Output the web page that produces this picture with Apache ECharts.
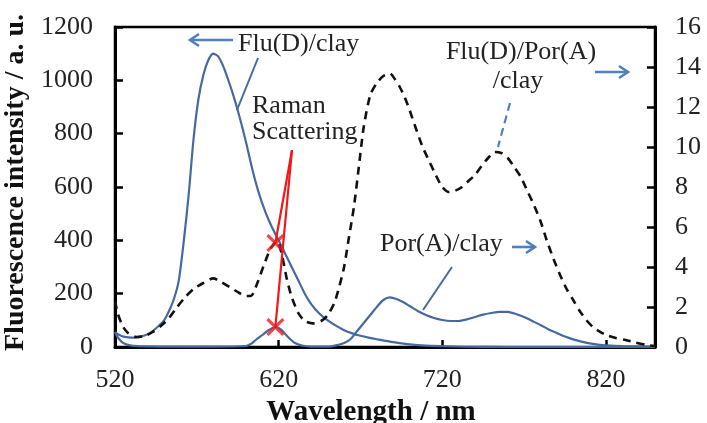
<!DOCTYPE html>
<html>
<head>
<meta charset="utf-8">
<script src="https://cdn.jsdelivr.net/npm/echarts@6/dist/echarts.min.js"></script>
<style>
  html, body { margin: 0; padding: 0; background: #ffffff; }
  #chart { width: 707px; height: 423px; }
</style>
</head>
<body>
<div id="chart"></div>
<script>
// Fluorescence spectra: Flu(D)/clay on the left axis, the other two on the right axis.
const wlFluD = [520, 523, 526, 530, 534, 538, 542, 546, 550, 553, 556, 559, 562, 565, 568, 571, 574, 577, 580, 583, 586, 589, 592, 596, 600, 604, 608, 612, 616, 620, 624, 628, 632, 636, 640, 645, 650, 655, 660, 665, 670, 675, 680, 690, 700, 710, 720, 735, 760, 800, 850];
const valFluD = [55, 44, 38, 35, 37, 43, 55, 75, 100, 135, 180, 250, 395, 570, 780, 930, 1020, 1075, 1100, 1090, 1055, 1005, 950, 865, 770, 665, 575, 505, 448, 400, 350, 300, 250, 200, 160, 125, 100, 80, 63, 51, 42, 35, 29, 18, 10, 5, 3, 1, 0, 0, 0];

const wlPorA = [520, 522, 525, 530, 540, 560, 580, 600, 603, 606, 610, 614, 618, 621, 624, 627, 630, 635, 640, 650, 655, 660, 664, 668, 672, 676, 680, 684, 688, 692, 696, 700, 705, 710, 715, 720, 725, 730, 735, 740, 745, 750, 755, 760, 765, 770, 775, 780, 785, 790, 795, 800, 805, 810, 815, 820, 830, 850];
const valPorA = [0.75, 0.45, 0.2, 0.07, 0.03, 0.02, 0.02, 0.05, 0.15, 0.35, 0.6, 0.85, 1.0, 0.9, 0.65, 0.4, 0.2, 0.06, 0.02, 0.02, 0.08, 0.2, 0.4, 0.8, 1.2, 1.6, 2.0, 2.35, 2.48, 2.4, 2.25, 2.05, 1.8, 1.6, 1.45, 1.35, 1.3, 1.3, 1.38, 1.5, 1.62, 1.7, 1.76, 1.76, 1.65, 1.5, 1.3, 1.1, 0.88, 0.7, 0.52, 0.38, 0.27, 0.18, 0.12, 0.08, 0.04, 0.02];

const wlFluDPorA = [520, 522, 525, 528, 533, 538, 543, 548, 553, 558, 563, 568, 574, 580, 585, 590, 596, 600, 603, 607, 611, 615, 619, 622, 625, 628, 632, 636, 641, 646, 650, 654, 657, 660, 663, 666, 669, 672, 676, 680, 684, 688, 691, 694, 697, 700, 704, 708, 712, 716, 720, 724, 728, 732, 736, 740, 744, 748, 752, 756, 760, 764, 768, 772, 776, 780, 784, 788, 792, 796, 800, 804, 808, 812, 816, 820, 826, 832, 838, 845, 850];
const valFluDPorA = [2.3, 1.6, 1.0, 0.7, 0.5, 0.55, 0.75, 1.05, 1.45, 2.0, 2.5, 2.9, 3.2, 3.43, 3.25, 3.0, 2.7, 2.55, 2.55, 3.2, 4.1, 4.9, 5.3, 4.6, 3.4, 2.5, 1.7, 1.3, 1.18, 1.3, 1.6, 2.2, 3.0, 4.0, 5.5, 7.0, 9.0, 11.0, 12.6, 13.2, 13.55, 13.68, 13.4, 13.0, 12.5, 11.85, 10.9, 10.0, 9.3, 8.6, 8.0, 7.75, 7.82, 8.0, 8.3, 8.6, 9.05, 9.45, 9.75, 9.7, 9.45, 9.0, 8.5, 7.8, 7.1, 6.3, 5.3, 4.4, 3.6, 2.9, 2.35, 1.8, 1.35, 1.0, 0.78, 0.6, 0.45, 0.35, 0.22, 0.1, 0.05];

// Raman scattering peaks marked with crosses (right-axis units)
const ramanWl = [618, 618];
const ramanVal = [5.2, 1.0];

// Axis ranges and tick labels
const xTicks = [520, 620, 720, 820];
const leftTicks = [0, 200, 400, 600, 800, 1000, 1200];
const rightTicks = [0, 2, 4, 6, 8, 10, 12, 14, 16];

const zip = (xs, ys) => xs.map((x, i) => [x, ys[i]]);

const SERIF = "'Liberation Serif', 'Times New Roman', serif";
const CURVE_BLUE = '#46699f';
const ARROW_BLUE = '#4f81bd';
const RED = '#f01818';

const chart = echarts.init(document.getElementById('chart'), null, { renderer: 'canvas' });

const plainNumber = (v) => String(v);

const axisCommon = {
  axisLine: { show: true, onZero: false, lineStyle: { color: '#000', width: 3 } },
  axisTick: { show: true, inside: true, length: 8, lineStyle: { color: '#000', width: 2.5 } },
  splitLine: { show: false }
};

const crossPath = 'path://M0,1.2L1.2,0L5,3.8L8.8,0L10,1.2L6.2,5L10,8.8L8.8,10L5,6.2L1.2,10L0,8.8L3.8,5Z';

const curve = (name, axis, data, lineStyle, z) => ({
  name, type: 'line', yAxisIndex: axis, data, showSymbol: false,
  smooth: 0.25, lineStyle, z
});

const option = {
  animation: false,
  backgroundColor: '#ffffff',
  grid: {
    left: 115, right: 52, top: 27, bottom: 76,
    containLabel: false, outerBoundsMode: 'none',
    show: true, borderColor: '#000', borderWidth: 2.5, backgroundColor: 'transparent'
  },
  xAxis: Object.assign({}, axisCommon, {
    type: 'value',
    min: xTicks[0], max: 850, interval: xTicks[1] - xTicks[0],
    axisTick: { show: true, inside: true, length: 7, lineStyle: { color: '#000', width: 2.5 } },
    axisLabel: { fontFamily: SERIF, fontSize: 26, color: '#222', margin: 20, showMaxLabel: false, formatter: plainNumber },
    name: 'Wavelength / nm',
    nameLocation: 'middle',
    nameGap: 51,
    nameTextStyle: { fontFamily: SERIF, fontWeight: 'bold', fontSize: 29, color: '#111', padding: [0, 28, 0, 0] }
  }),
  yAxis: [
    Object.assign({}, axisCommon, {
      type: 'value', position: 'left',
      min: leftTicks[0], max: leftTicks[leftTicks.length - 1], interval: leftTicks[1] - leftTicks[0],
      axisLabel: { fontFamily: SERIF, fontSize: 26, color: '#222', margin: 22, formatter: plainNumber },
      name: 'Fluorescence intensity / a. u.',
      nameLocation: 'middle',
      nameRotate: 90,
      nameGap: 74,
      nameTextStyle: { fontFamily: SERIF, fontWeight: 'bold', fontSize: 28, color: '#111', padding: [0, 0, 0, 9] }
    }),
    Object.assign({}, axisCommon, {
      type: 'value', position: 'right',
      min: rightTicks[0], max: rightTicks[rightTicks.length - 1], interval: rightTicks[1] - rightTicks[0],
      axisLabel: { fontFamily: SERIF, fontSize: 26, color: '#222', margin: 20, formatter: plainNumber }
    })
  ],
  series: [
    curve('Flu(D)/clay', 0, zip(wlFluD, valFluD), { color: CURVE_BLUE, width: 2.2 }, 3),
    curve('Por(A)/clay', 1, zip(wlPorA, valPorA), { color: CURVE_BLUE, width: 2.2 }, 3),
    curve('Flu(D)/Por(A)/clay', 1, zip(wlFluDPorA, valFluDPorA), { color: '#111', width: 2.6, type: [8, 6] }, 4),
    {
      name: 'Raman scattering', type: 'scatter', yAxisIndex: 1,
      data: zip(ramanWl, ramanVal), symbol: crossPath, symbolSize: 18,
      itemStyle: { color: RED }, z: 10
    }
  ]
};

chart.setOption(option);

// Leader lines from the "Raman Scattering" caption to each cross
const ramanOrigin = [292, 150];
const ramanLeaders = ramanWl.map((w, i) => {
  const p = chart.convertToPixel({ xAxisIndex: 0, yAxisIndex: 1 }, [w, ramanVal[i]]);
  return {
    type: 'line', z: 20,
    shape: { x1: ramanOrigin[0], y1: ramanOrigin[1], x2: p[0], y2: p[1] },
    style: { stroke: RED, lineWidth: 2.2 }
  };
});

const caption = (text, x, y, align) => ({
  type: 'text', z: 20,
  style: { text, x, y, align: align || 'left', verticalAlign: 'middle', font: '26px ' + SERIF, fill: '#222' }
});

const arrow = (x1, x2, y) => {
  const dir = x2 > x1 ? 1 : -1;
  return [
    { type: 'line', z: 20, shape: { x1, y1: y, x2, y2: y }, style: { stroke: ARROW_BLUE, lineWidth: 2.6 } },
    { type: 'polyline', z: 20, shape: { points: [[x2 - dir * 9, y - 6], [x2, y], [x2 - dir * 9, y + 6]] }, style: { stroke: ARROW_BLUE, lineWidth: 2.6, fill: null } }
  ];
};

chart.setOption({
  graphic: [
    caption('Flu(D)/clay', 238, 44),
    caption('Raman', 252, 106),
    caption('Scattering', 252, 132),
    caption('Flu(D)/Por(A)', 521, 52, 'center'),
    caption('/clay', 518, 81, 'center'),
    caption('Por(A)/clay', 380, 244),
    ...arrow(233, 190, 40),
    ...arrow(595, 628, 72),
    ...arrow(512, 535, 247),
    { type: 'line', z: 20, shape: { x1: 258, y1: 58, x2: 237, y2: 110 }, style: { stroke: CURVE_BLUE, lineWidth: 2 } },
    { type: 'line', z: 20, shape: { x1: 452, y1: 267, x2: 423, y2: 310 }, style: { stroke: CURVE_BLUE, lineWidth: 2 } },
    { type: 'line', z: 20, shape: { x1: 510, y1: 103, x2: 498, y2: 147 }, style: { stroke: ARROW_BLUE, lineWidth: 2.2, lineDash: [8, 5] } },
    ...ramanLeaders
  ]
});
</script>
</body>
</html>
